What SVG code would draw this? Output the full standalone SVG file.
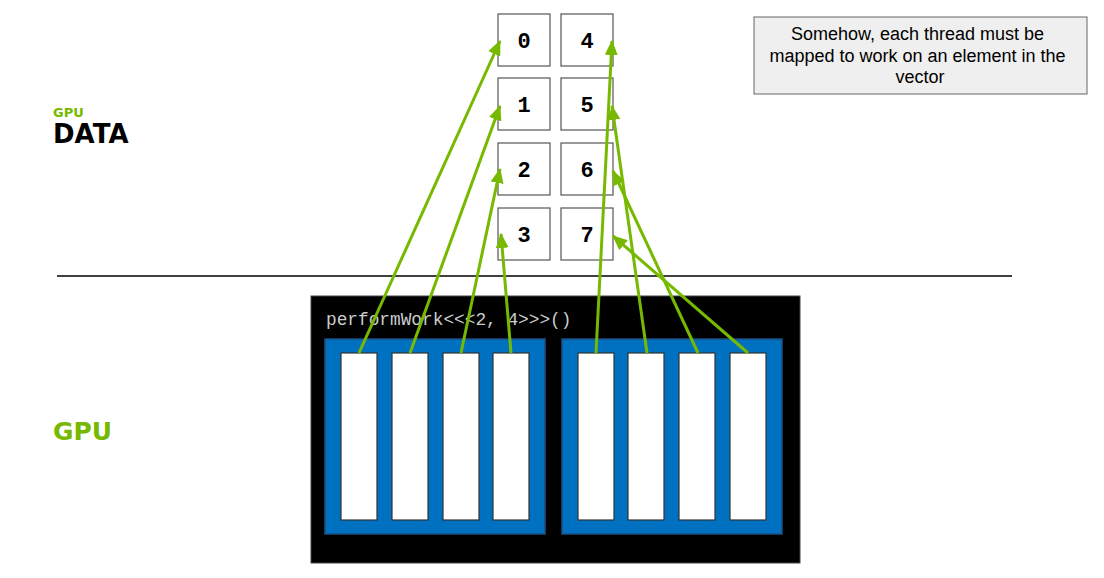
<svg xmlns="http://www.w3.org/2000/svg" width="1104" height="578" viewBox="0 0 1104 578">
<style>
.box{fill:#fff;stroke:#555;stroke-width:1.2}
.num{font-family:"Liberation Mono","DejaVu Sans Mono",monospace;font-weight:bold;font-size:22px;fill:#000;text-anchor:middle}
.blk{fill:#0070c0;stroke:#1d4f80;stroke-width:1.5}
.thr{fill:#fff;stroke:#333;stroke-width:1.2}
.conn{stroke:#76b900;stroke-width:3;fill:none}
.lbl{font-family:"DejaVu Sans",sans-serif;font-weight:bold}
</style>
<defs>
<marker id="ah" markerUnits="userSpaceOnUse" markerWidth="16" markerHeight="14" refX="14" refY="6.5" orient="auto">
<path d="M0,0 L15,6.5 L0,13 z" fill="#76b900"/>
</marker>
</defs>
<rect width="1104" height="578" fill="#fff"/>
<g id="labels">
<text class="lbl" x="53" y="117" font-size="13" fill="#76b900">GPU</text>
<text class="lbl" x="53" y="143" font-size="26" fill="#000">DATA</text>
<text class="lbl" x="53" y="440" font-size="25" fill="#76b900">GPU</text>
</g>
<line x1="57" y1="276" x2="1012" y2="276" stroke="#000" stroke-width="1.5"/>
<g id="note">
<rect x="754" y="17" width="333" height="77" fill="#efefef" stroke="#666" stroke-width="1"/>
<text font-family="'Liberation Sans',Arial,sans-serif" font-size="18" fill="#000" text-anchor="middle">
<tspan x="920" y="40">Somehow, each thread must be</tspan>
<tspan x="920" y="62">mapped to work on an element in the</tspan>
<tspan x="920" y="83">vector</tspan>
</text>
</g>
<g id="d0"><rect class="box" x="498" y="14" width="52" height="52"/><text class="num" x="524" y="48">0</text></g>
<g id="d1"><rect class="box" x="498" y="78" width="52" height="52"/><text class="num" x="524" y="112">1</text></g>
<g id="d2"><rect class="box" x="498" y="143" width="52" height="52"/><text class="num" x="524" y="177">2</text></g>
<g id="d3"><rect class="box" x="498" y="208" width="52" height="52"/><text class="num" x="524" y="242">3</text></g>
<g id="d4"><rect class="box" x="561" y="14" width="52" height="52"/><text class="num" x="587" y="48">4</text></g>
<g id="d5"><rect class="box" x="561" y="78" width="52" height="52"/><text class="num" x="587" y="112">5</text></g>
<g id="d6"><rect class="box" x="561" y="143" width="52" height="52"/><text class="num" x="587" y="177">6</text></g>
<g id="d7"><rect class="box" x="561" y="208" width="52" height="52"/><text class="num" x="587" y="242">7</text></g>
<g id="gpu">
<rect x="311" y="296" width="489" height="267" fill="#000" stroke="#444" stroke-width="1"/>
<text x="326" y="325" font-family="'Liberation Mono','Courier New',monospace" font-size="17.8" fill="#cccccc">performWork&lt;&lt;&lt;2, 4&gt;&gt;&gt;()</text>
</g>
<g id="block0">
<rect class="blk" x="325" y="339" width="220" height="195"/>
<rect class="thr" x="341" y="353" width="36" height="167"/>
<rect class="thr" x="392" y="353" width="36" height="167"/>
<rect class="thr" x="443" y="353" width="36" height="167"/>
<rect class="thr" x="493" y="353" width="36" height="167"/>
</g>
<g id="block1">
<rect class="blk" x="562" y="339" width="220" height="195"/>
<rect class="thr" x="578" y="353" width="36" height="167"/>
<rect class="thr" x="628" y="353" width="36" height="167"/>
<rect class="thr" x="679" y="353" width="36" height="167"/>
<rect class="thr" x="730" y="353" width="36" height="167"/>
</g>
<g id="connectors" class="conn">
<line x1="359" y1="353" x2="500" y2="41" marker-end="url(#ah)"/>
<line x1="410" y1="353" x2="500" y2="106" marker-end="url(#ah)"/>
<line x1="461" y1="353" x2="500" y2="169" marker-end="url(#ah)"/>
<line x1="511" y1="353" x2="501" y2="234" marker-end="url(#ah)"/>
<line x1="596" y1="353" x2="612" y2="41" marker-end="url(#ah)"/>
<line x1="647" y1="353" x2="612" y2="106" marker-end="url(#ah)"/>
<line x1="698" y1="353" x2="613" y2="171" marker-end="url(#ah)"/>
<line x1="748" y1="353" x2="613" y2="236" marker-end="url(#ah)"/>
</g>
</svg>
